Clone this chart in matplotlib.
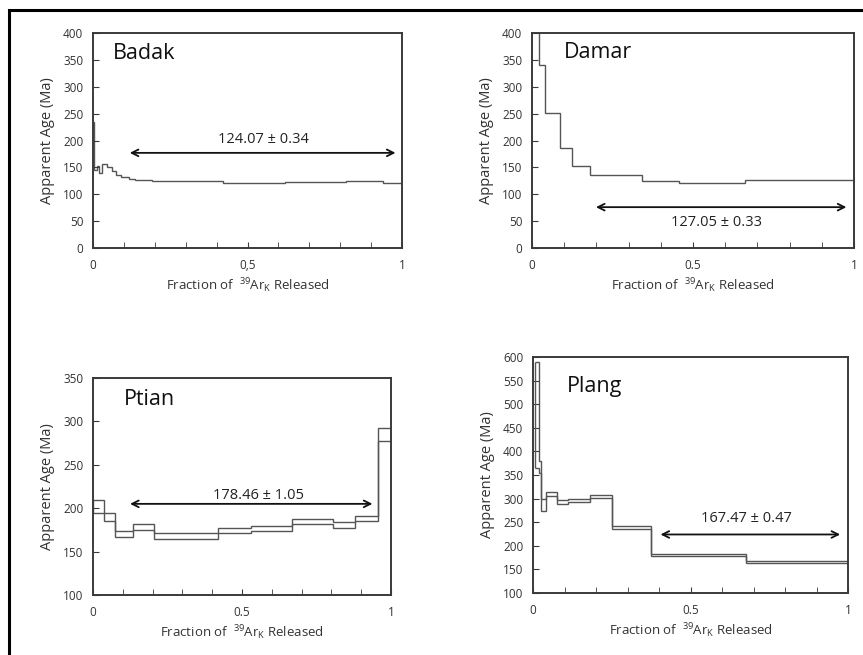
import matplotlib
matplotlib.use("Agg")
import matplotlib.pyplot as plt
from matplotlib.patches import Rectangle

plt.rcParams["font.family"] = ["Open Sans", "DejaVu Sans"]
plt.rcParams["mathtext.default"] = "regular"

# --- Badak: cumulative step spectrum ---
badak_edges = [0, 0.004, 0.012, 0.02, 0.03, 0.045, 0.06, 0.075, 0.09, 0.115,
               0.135, 0.19, 0.42, 0.62, 0.72, 0.82, 0.9, 0.94, 1.0]
badak_ages = [235, 145, 152, 140, 156, 150, 143, 135, 133, 128,
              126, 124, 121, 122, 123, 124, 125, 121]
badak_plateau = "124.07 \u00b1 0.34"

# --- Damar ---
damar_edges = [0, 0.022, 0.04, 0.087, 0.123, 0.18, 0.341, 0.455, 0.662, 1.0]
damar_ages = [450, 341, 251, 186, 153, 135, 124, 121, 127]
damar_plateau = "127.05 \u00b1 0.33"

# --- Ptian: age envelopes (low, high) ---
ptian_edges = [0, 0.036, 0.075, 0.135, 0.204, 0.30, 0.42, 0.53, 0.667,
               0.807, 0.88, 0.958, 1.0]
ptian_low = [195, 185, 167, 175, 165, 165, 172, 174, 182, 177, 185, 277]
ptian_high = [210, 194, 174, 182, 172, 171, 177, 180, 188, 184, 191, 292]
ptian_plateau = "178.46 \u00b1 1.05"

# --- Plang: age envelopes (low, high) ---
plang_edges = [0.005, 0.018, 0.026, 0.042, 0.076, 0.11, 0.182, 0.25,
               0.375, 0.675, 1.0]
plang_low = [365, 355, 273, 305, 289, 292, 301, 236, 178, 164]
plang_high = [590, 380, 300, 313, 298, 300, 308, 241, 182, 167]
plang_plateau = "167.47 \u00b1 0.47"

LINE = "#555555"
SPINE = "#3a3a3a"
TXT = "#333333"

fig = plt.figure(figsize=(8.63, 6.55), dpi=100)

# outer frame
fig.patches.append(Rectangle((9 / 863, -0.1), 1.1, 1 - 10 / 655 + 0.1,
                             transform=fig.transFigure, fill=False,
                             edgecolor="black", linewidth=2.2))


def style_axes(ax, ymin, ymax, mid_label, title, title_xy):
    ax.set_xlim(0, 1)
    ax.set_ylim(ymin, ymax)
    ax.set_xticks([0, 0.5, 1])
    ax.set_xticklabels(["0", mid_label, "1"])
    ax.set_xticks([i / 10 for i in range(11)], minor=True)
    ax.set_yticks(list(range(ymin, ymax + 1, 50)))
    ax.tick_params(axis="both", which="both", direction="in", colors=SPINE,
                   labelcolor=TXT, labelsize=8.5)
    ax.tick_params(axis="x", which="major", length=4, pad=8)
    ax.tick_params(axis="x", which="minor", length=4)
    ax.tick_params(axis="y", length=4, pad=7)
    for s in ax.spines.values():
        s.set_color(SPINE)
        s.set_linewidth(1.4)
    ax.set_xlabel(r"Fraction of  $^{39}$Ar$_{K}$ Released", fontsize=9.5,
                  color=TXT, labelpad=3)
    ax.set_ylabel("Apparent Age (Ma)", fontsize=10.5, color=TXT, labelpad=6)
    ax.text(title_xy[0], title_xy[1], title, transform=ax.transAxes,
            fontsize=15.5, va="center", ha="left", color="#111111")


def plateau(ax, x0, x1, y_arrow, label, lx, ly):
    ax.annotate("", xy=(x0, y_arrow), xytext=(x1, y_arrow),
                arrowprops=dict(arrowstyle="<->", color="#111111", lw=1.3,
                                mutation_scale=12))
    ax.text(lx, ly, label, ha="center", va="center", fontsize=10.5,
            color="#222222")


def envelope(ax, edges, lows, highs):
    # upper and lower step traces, closed at both ends
    ax.stairs(highs, edges, color=LINE, linewidth=1.0, baseline=None)
    ax.stairs(lows, edges, color=LINE, linewidth=1.0, baseline=None)
    ax.vlines([edges[0]], [lows[0]], [highs[0]], color=LINE, linewidth=1.0)
    ax.vlines([edges[-1]], [lows[-1]], [highs[-1]], color=LINE, linewidth=1.0)


# Badak
ax1 = fig.add_axes([93 / 863, 1 - 248 / 655, 309 / 863, 215 / 655])
ax1.stairs(badak_ages, badak_edges, color=LINE, linewidth=1.0, baseline=None)
style_axes(ax1, 0, 400, "0,5", "Badak", (0.065, 0.905))
plateau(ax1, 0.11, 0.988, 177, badak_plateau, 0.55, 201)

# Damar
ax2 = fig.add_axes([532 / 863, 1 - 248 / 655, 322 / 863, 215 / 655])
ax2.stairs(damar_ages, damar_edges, color=LINE, linewidth=1.0, baseline=None)
style_axes(ax2, 0, 400, "0.5", "Damar", (0.10, 0.91))
plateau(ax2, 0.19, 0.985, 76, damar_plateau, 0.574, 48)

# Ptian
ax3 = fig.add_axes([93 / 863, 1 - 595 / 655, 298 / 863, 217 / 655])
envelope(ax3, ptian_edges, ptian_low, ptian_high)
style_axes(ax3, 100, 350, "0.5", "Ptian", (0.104, 0.90))
plateau(ax3, 0.115, 0.947, 205, ptian_plateau, 0.555, 215)

# Plang
ax4 = fig.add_axes([533 / 863, 1 - 593 / 655, 315 / 863, 236 / 655])
envelope(ax4, plang_edges, plang_low, plang_high)
style_axes(ax4, 100, 600, "0.5", "Plang", (0.108, 0.873))
plateau(ax4, 0.396, 0.984, 224, plang_plateau, 0.678, 257)

fig.savefig("out.png", dpi=100)
